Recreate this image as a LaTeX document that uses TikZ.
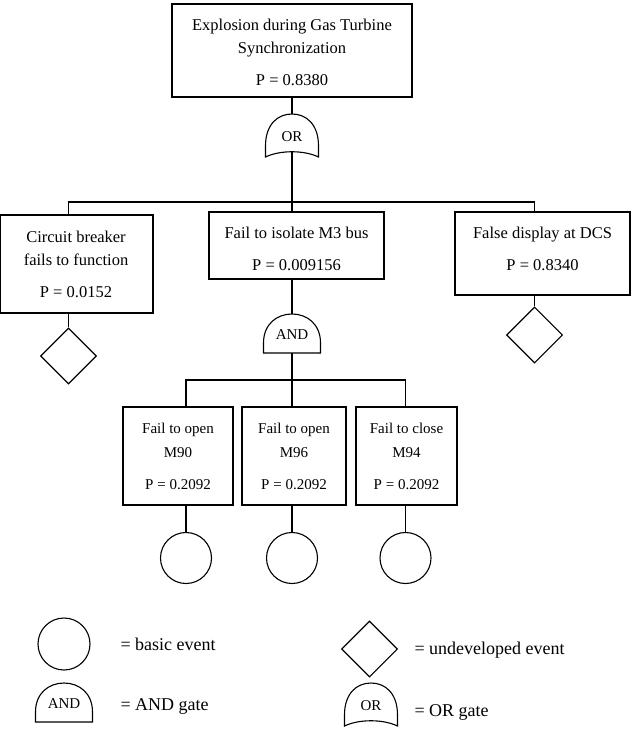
\documentclass[tikz,border=0pt]{standalone}
\usepackage{fontspec}
\setmainfont{Liberation Serif}
\usetikzlibrary{shapes.geometric}
\tikzset{
  box/.style={draw, rectangle, inner sep=0pt},
  lbl/.style={inner sep=0pt, font=\fontsize{16.5}{19}\selectfont},
  slbl/.style={inner sep=0pt, font=\fontsize{15}{18}\selectfont},
  glbl/.style={inner sep=0pt, font=\fontsize{15}{18}\selectfont},
  leglbl/.style={inner sep=0pt, anchor=base west, font=\fontsize{18}{21}\selectfont},
  basic/.style={draw, circle, inner sep=0pt, minimum size=51pt},
  undev/.style={draw, diamond, inner sep=0pt, minimum width=56pt, minimum height=56pt},
  andgate/.pic={
    \draw (-28.5,39) -- (-28.5,29) .. controls (-28.5,10) and (-15,0) .. (0,0)
          .. controls (15,0) and (28.5,10) .. (28.5,29) -- (28.5,39) -- cycle;
    \node[glbl] (-lbl) at (0,21) {AND};
    \coordinate (-top) at (0,0);
    \coordinate (-bot) at (0,39);
  },
  orgate/.pic={
    \draw (-26.5,43) -- (-26.5,32) .. controls (-26.5,10) and (-14,0) .. (0,0)
          .. controls (14,0) and (26.5,10) .. (26.5,32) -- (26.5,43)
          .. controls (12,36) and (-12,36) .. (-26.5,43) -- cycle;
    \node[glbl] (-lbl) at (0,23) {OR};
    \coordinate (-top) at (0,0);
    \coordinate (-bot) at (0,38);
  }
}
\begin{document}
\begin{tikzpicture}[x=1pt, y=-1pt, line width=1.1pt]
\useasboundingbox (0,0) rectangle (631,751);

% top event
\node[box, minimum width=240pt, minimum height=93pt] (top) at (292,50.5) {};
\node[lbl, anchor=base] (top1) at (292,30.7) {Explosion during Gas Turbine};
\node[lbl, anchor=base] (top2) at (292,53.3) {Synchronization};
\node[lbl, anchor=base] (top3) at (292,86) {P = 0.8380};

\pic (org) at (292,114) {orgate};
\draw (top.south -| org-top) -- (org-top);

% second level boxes
\node[box, minimum width=152.4pt, minimum height=98pt] (lbox) at (76.8,264) {};
\node[lbl, anchor=base] (l1) at (76,242) {Circuit breaker};
\node[lbl, anchor=base] (l2) at (76,265) {fails to function};
\node[lbl, anchor=base] (l3) at (76,297) {P = 0.0152};

\node[box, minimum width=175pt, minimum height=67pt] (mbox) at (296.5,245.5) {};
\node[lbl, anchor=base] (m1) at (296.5,238.5) {Fail to isolate M3 bus};
\node[lbl, anchor=base] (m2) at (296.5,270.5) {P = 0.009156};

\node[box, minimum width=175pt, minimum height=83pt] (rbox) at (542.5,253.5) {};
\node[lbl, anchor=base] (r1) at (542.5,238.5) {False display at DCS};
\node[lbl, anchor=base] (r2) at (542.5,270.5) {P = 0.8340};

\node[undev] (ldia) at (68.5,356) {};
\node[undev] (rdia) at (534.5,335) {};

\coordinate (bus1) at (292,202);
\draw (org-bot) -- (mbox.north -| org-bot);
\draw (lbox.north -| ldia.north) |- (bus1) -| (rbox.north -| rdia.north);
\draw (lbox.south -| ldia.north) -- (ldia.north);
\draw (rbox.south -| rdia.north) -- (rdia.north);

\pic (andg) at (292,314) {andgate};
\draw (mbox.south -| andg-top) -- (andg-top);

% third level
\node[box, minimum width=110pt, minimum height=98pt] (b1) at (178,456) {};
\node[slbl, anchor=base] (b1a) at (178,433) {Fail to open};
\node[slbl, anchor=base] (b1b) at (178,457) {M90};
\node[slbl, anchor=base] (b1c) at (178,489) {P = 0.2092};

\node[box, minimum width=104pt, minimum height=98pt] (b2) at (294,456) {};
\node[slbl, anchor=base] (b2a) at (294,433) {Fail to open};
\node[slbl, anchor=base] (b2b) at (294,457) {M96};
\node[slbl, anchor=base] (b2c) at (294,489) {P = 0.2092};

\node[box, minimum width=101pt, minimum height=98pt] (b3) at (406.5,456) {};
\node[slbl, anchor=base] (b3a) at (406.5,433) {Fail to close};
\node[slbl, anchor=base] (b3b) at (406.5,457) {M94};
\node[slbl, anchor=base] (b3c) at (406.5,489) {P = 0.2092};

\node[basic] (c1) at (186,558) {};
\node[basic] (c2) at (292,558) {};
\node[basic] (c3) at (405.5,558) {};

\coordinate (bus2) at (292,380);
\draw (andg-bot) -- (b2.north -| andg-bot);
\draw (b1.north -| c1.north) |- (bus2) -| (b3.north -| c3.north);
\draw (b1.south -| c1.north) -- (c1.north);
\draw (b2.south -| c2.north) -- (c2.north);
\draw (b3.south -| c3.north) -- (c3.north);

% legend
\node[basic, minimum size=52pt] (legc) at (64,644) {};
\node[leglbl] (legct) at (120,650) {= basic event};
\pic (legand) at (64,683) {andgate};
\node[leglbl] (legat) at (120,710.5) {= AND gate};
\node[undev] (legd) at (369.5,649) {};
\node[leglbl] (legdt) at (414,654) {= undeveloped event};
\pic (legor) at (371,683) {orgate};
\node[leglbl] (legot) at (414,716.5) {= OR gate};
\end{tikzpicture}
\end{document}
